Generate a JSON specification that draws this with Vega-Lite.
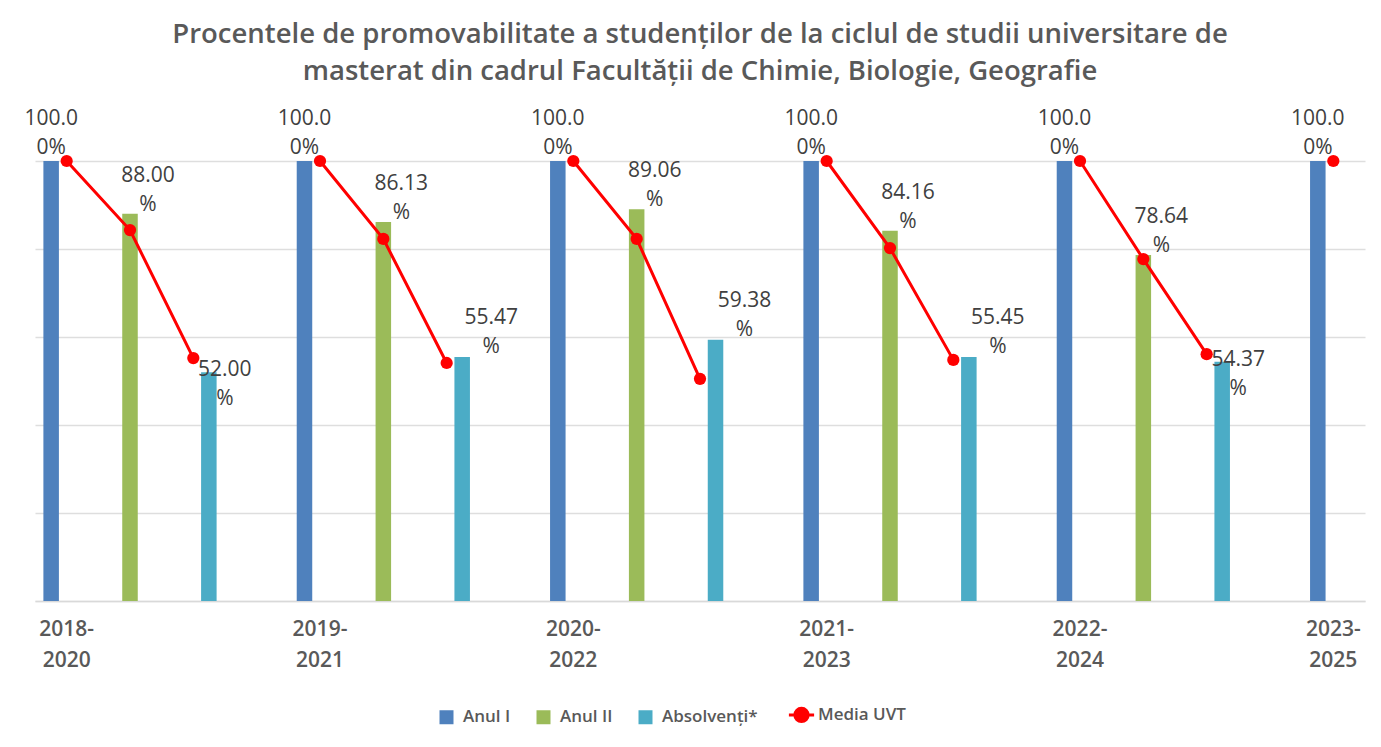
{
  "$schema": "https://vega.github.io/schema/vega-lite/v6.json",
  "autosize": {"type": "none"},
  "width": 1330,
  "height": 440,
  "padding": {"left": 35, "top": 161, "right": 16, "bottom": 146},
  "background": "white",
  "title": {
    "text": ["Procentele de promovabilitate a studenților de la ciclul de studii universitare de", "masterat din cadrul Facultății de Chimie, Biologie, Geografie"],
    "font": "Open Sans",
    "fontSize": 27.5,
    "fontWeight": 600,
    "color": "#595959",
    "lineHeight": 37,
    "anchor": "middle",
    "offset": 23
  },
  "config": {
    "view": {"stroke": null},
    "font": "Open Sans"
  },
  "data": {
    "values": [
      {"cat": "2018-2020", "grp": "2018-2020", "series": "Anul I", "v": 100},
      {"cat": "2018-2020 b", "grp": "2018-2020", "series": "Anul II", "v": 88.00},
      {"cat": "2018-2020 c", "grp": "2018-2020", "series": "Absolvenți*", "v": 52.00},
      {"cat": "2019-2021", "grp": "2019-2021", "series": "Anul I", "v": 100},
      {"cat": "2019-2021 b", "grp": "2019-2021", "series": "Anul II", "v": 86.13},
      {"cat": "2019-2021 c", "grp": "2019-2021", "series": "Absolvenți*", "v": 55.47},
      {"cat": "2020-2022", "grp": "2020-2022", "series": "Anul I", "v": 100},
      {"cat": "2020-2022 b", "grp": "2020-2022", "series": "Anul II", "v": 89.06},
      {"cat": "2020-2022 c", "grp": "2020-2022", "series": "Absolvenți*", "v": 59.38},
      {"cat": "2021-2023", "grp": "2021-2023", "series": "Anul I", "v": 100},
      {"cat": "2021-2023 b", "grp": "2021-2023", "series": "Anul II", "v": 84.16},
      {"cat": "2021-2023 c", "grp": "2021-2023", "series": "Absolvenți*", "v": 55.45},
      {"cat": "2022-2024", "grp": "2022-2024", "series": "Anul I", "v": 100},
      {"cat": "2022-2024 b", "grp": "2022-2024", "series": "Anul II", "v": 78.64},
      {"cat": "2022-2024 c", "grp": "2022-2024", "series": "Absolvenți*", "v": 54.37},
      {"cat": "2023-2025", "grp": "2023-2025", "series": "Anul I", "v": 100},
      {"cat": "2018-2020", "grp": "2018-2020", "series": "Media UVT", "v": 100},
      {"cat": "2018-2020 b", "grp": "2018-2020", "series": "Media UVT", "v": 84.3},
      {"cat": "2018-2020 c", "grp": "2018-2020", "series": "Media UVT", "v": 55.2},
      {"cat": "2019-2021", "grp": "2019-2021", "series": "Media UVT", "v": 100},
      {"cat": "2019-2021 b", "grp": "2019-2021", "series": "Media UVT", "v": 82.3},
      {"cat": "2019-2021 c", "grp": "2019-2021", "series": "Media UVT", "v": 54.1},
      {"cat": "2020-2022", "grp": "2020-2022", "series": "Media UVT", "v": 100},
      {"cat": "2020-2022 b", "grp": "2020-2022", "series": "Media UVT", "v": 82.3},
      {"cat": "2020-2022 c", "grp": "2020-2022", "series": "Media UVT", "v": 50.5},
      {"cat": "2021-2023", "grp": "2021-2023", "series": "Media UVT", "v": 100},
      {"cat": "2021-2023 b", "grp": "2021-2023", "series": "Media UVT", "v": 80.2},
      {"cat": "2021-2023 c", "grp": "2021-2023", "series": "Media UVT", "v": 54.8},
      {"cat": "2022-2024", "grp": "2022-2024", "series": "Media UVT", "v": 100},
      {"cat": "2022-2024 b", "grp": "2022-2024", "series": "Media UVT", "v": 77.7},
      {"cat": "2022-2024 c", "grp": "2022-2024", "series": "Media UVT", "v": 56.1},
      {"cat": "2023-2025", "grp": "2023-2025", "series": "Media UVT", "v": 100}
    ]
  },
  "transform": [
    {"calculate": "format(datum.v/100, '.2%')", "as": "pct"},
    {"calculate": "slice(datum.pct, 0, 5) + '\\n' + slice(datum.pct, 5)", "as": "lbl"}
  ],
  "encoding": {
    "x": {
      "field": "cat",
      "type": "nominal",
      "scale": {
        "domain": ["2018-2020", "2018-2020 b", "2018-2020 c", "2018-2020 d", "2019-2021", "2019-2021 b", "2019-2021 c", "2019-2021 d", "2020-2022", "2020-2022 b", "2020-2022 c", "2020-2022 d", "2021-2023", "2021-2023 b", "2021-2023 c", "2021-2023 d", "2022-2024", "2022-2024 b", "2022-2024 c", "2022-2024 d", "2023-2025"],
        "paddingInner": 0.265,
        "paddingOuter": 0.1325
      },
      "axis": {
        "title": null,
        "labelAngle": 0,
        "ticks": false,
        "domainColor": "#d9d9d9",
        "domainWidth": 1.5,
        "labelExpr": "length(datum.value) == 9 ? [slice(datum.value, 0, 5), slice(datum.value, 5)] : ''",
        "labelFont": "Open Sans",
        "labelFontSize": 21,
        "labelFontWeight": 600,
        "labelColor": "#595959",
        "labelLineHeight": 31,
        "labelPadding": 17,
        "labelOverlap": false
      }
    },
    "y": {
      "field": "v",
      "type": "quantitative",
      "scale": {"domain": [0, 100], "nice": false},
      "axis": {
        "title": null,
        "labels": false,
        "ticks": false,
        "domain": false,
        "values": [0, 20, 40, 60, 80, 100],
        "gridColor": "#dedede",
        "gridWidth": 1.5
      }
    }
  },
  "layer": [
    {
      "transform": [{"filter": "datum.series != 'Media UVT'"}],
      "mark": {"type": "bar"},
      "encoding": {
        "xOffset": {
          "field": "series",
          "type": "nominal",
          "scale": {"domain": ["Anul I", "Anul II", "Absolvenți*"], "paddingInner": 0, "paddingOuter": 0}
        },
        "color": {
          "field": "series",
          "type": "nominal",
          "scale": {
            "domain": ["Anul I", "Anul II", "Absolvenți*", "Media UVT"],
            "range": ["#4F81BD", "#9BBB59", "#4BACC6", "#FF0000"]
          },
          "legend": {
            "orient": "none",
            "legendX": 403,
            "legendY": 545,
            "direction": "horizontal",
            "title": null,
            "symbolSize": 196,
            "labelFont": "Open Sans",
            "labelFontSize": 17,
            "labelFontWeight": 600,
            "labelColor": "#595959",
            "columnPadding": 24,
            "labelOffset": 8,
            "encode": {
              "symbols": {
                "update": {
                  "shape": {"signal": "datum.value === 'Media UVT' ? 'M-1.8,0L1.8,0M-0.95,0A0.95,0.95 0 1,1 0.95,0A0.95,0.95 0 1,1 -0.95,0Z' : 'square'"},
                  "fill": {"scale": "color", "field": "value"},
                  "stroke": {"scale": "color", "field": "value"},
                  "strokeWidth": {"signal": "datum.value === 'Media UVT' ? 3 : 0"},
                  "opacity": {"value": 1},
                  "fillOpacity": {"value": 1}
                }
              }
            }
          }
        }
      }
    },
    {
      "transform": [{"filter": "datum.series == 'Anul I'"}],
      "mark": {"type": "text", "font": "Open Sans", "fontSize": 21, "color": "#404040", "lineBreak": "\n", "lineHeight": 29, "baseline": "middle", "align": "center", "dy": -42},
      "encoding": {
        "xOffset": {"field": "series", "type": "nominal"},
        "text": {"field": "lbl"}
      }
    },
    {
      "transform": [{"filter": "datum.series == 'Anul II'"}],
      "mark": {"type": "text", "font": "Open Sans", "fontSize": 21, "color": "#404040", "lineBreak": "\n", "lineHeight": 29, "baseline": "middle", "align": "center", "dy": -38, "dx": 18},
      "encoding": {
        "xOffset": {"field": "series", "type": "nominal"},
        "text": {"field": "lbl"}
      }
    },
    {
      "transform": [{"filter": "datum.series == 'Absolvenți*' && datum.v >= 55"}],
      "mark": {"type": "text", "font": "Open Sans", "fontSize": 21, "color": "#404040", "lineBreak": "\n", "lineHeight": 29, "baseline": "middle", "align": "center", "dy": -39, "dx": 29},
      "encoding": {
        "xOffset": {"field": "series", "type": "nominal"},
        "text": {"field": "lbl"}
      }
    },
    {
      "transform": [{"filter": "datum.series == 'Absolvenți*' && datum.v < 55"}],
      "mark": {"type": "text", "font": "Open Sans", "fontSize": 21, "color": "#404040", "lineBreak": "\n", "lineHeight": 29, "baseline": "middle", "align": "center", "dy": -2, "dx": 16},
      "encoding": {
        "xOffset": {"field": "series", "type": "nominal"},
        "text": {"field": "lbl"}
      }
    },
    {
      "transform": [{"filter": "datum.series == 'Media UVT'"}],
      "mark": {"type": "line", "strokeWidth": 3},
      "encoding": {
        "detail": {"field": "grp", "type": "nominal"},
        "color": {"field": "series", "type": "nominal"}
      }
    },
    {
      "transform": [{"filter": "datum.series == 'Media UVT'"}],
      "mark": {"type": "point", "filled": true, "shape": "circle", "size": 150, "opacity": 1},
      "encoding": {
        "color": {"field": "series", "type": "nominal"}
      }
    }
  ]
}
